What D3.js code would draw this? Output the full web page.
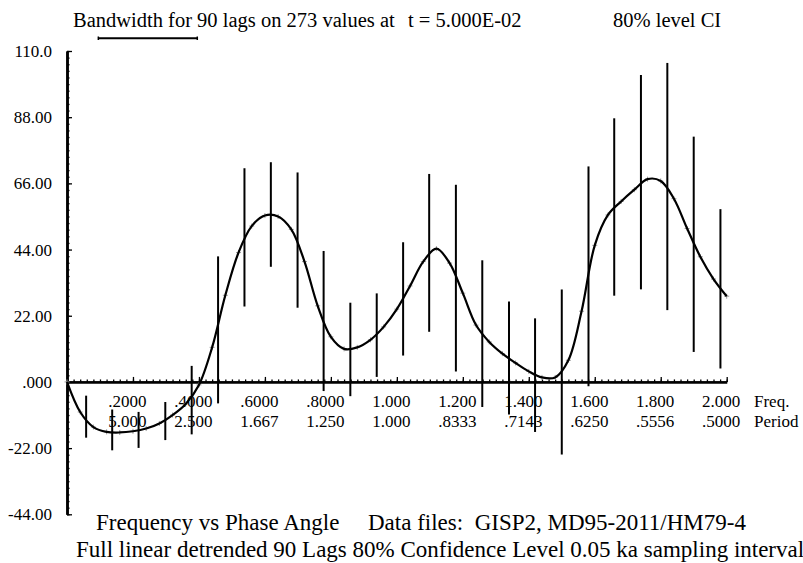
<!DOCTYPE html>
<html>
<head>
<meta charset="utf-8">
<script src="https://cdn.jsdelivr.net/npm/d3@7"></script>
<style>
body { margin: 0; background: #fff; }
svg { display: block; }
</style>
</head>
<body>
<script>
// spectrum (phase angle), every 0.04 in frequency
specFreq = [0.00, 0.04, 0.08, 0.12, 0.16, 0.20, 0.24, 0.28, 0.32, 0.36,
            0.40, 0.44, 0.48, 0.52, 0.56, 0.60, 0.64, 0.68, 0.72, 0.76,
            0.80, 0.84, 0.88, 0.92, 0.96, 1.00, 1.04, 1.08, 1.12, 1.16,
            1.20, 1.24, 1.28, 1.32, 1.36, 1.40, 1.44, 1.48, 1.52, 1.56,
            1.60, 1.64, 1.68, 1.72, 1.76, 1.80, 1.84, 1.88, 1.92, 1.96, 2.00]
specValue = [0.0, -10.0, -15.0, -16.6, -16.8, -16.4, -15.5, -13.8, -11.0, -7.3,
             -1.0, 11.5, 28.8, 43.0, 51.8, 55.3, 55.0, 50.7, 40.0, 25.3,
             15.0, 11.0, 11.5, 14.0, 18.3, 24.2, 31.9, 40.0, 44.3, 39.5,
             29.5, 18.9, 13.3, 9.4, 6.3, 3.5, 1.5, 1.5, 7.2, 23.5,
             45.4, 55.5, 60.0, 63.9, 67.4, 66.8, 60.9, 51.0, 41.6, 34.2, 28.5]

// 80% confidence intervals
ciFreq = [0.058, 0.137, 0.217, 0.298, 0.378, 0.458, 0.538, 0.618, 0.699, 0.778,
          0.859, 0.939, 1.019, 1.098, 1.179, 1.259, 1.340, 1.419, 1.500, 1.581,
          1.659, 1.740, 1.820, 1.900, 1.981]
ciHigh = [-4.9, -9.5, -10.3, -7.0, 5.0, 41.4, 70.7, 72.7, 69.3, 43.2,
          26.0, 29.1, 46.1, 68.8, 65.2, 40.1, 26.4, 20.8, 30.4, 71.3,
          87.3, 101.7, 105.7, 81.2, 57.1]
ciLow = [-18.2, -22.4, -21.6, -19.0, -17.1, -6.8, 25.4, 38.6, 25.0, -2.7,
         -4.4, 2.0, 9.1, 17.0, 3.8, -8.0, -10.5, -16.3, -23.8, -1.1,
         29.0, 31.1, 24.2, 10.3, 4.8]

bandwidthStart = 0.095
bandwidth = 0.30

yTickValues = [-44, -22, 0, 22, 44, 66, 88, 110]
yTickLabels = ["-44.00", "-22.00", ".000", "22.00", "44.00", "66.00", "88.00", "110.0"]
freqTicks = [0.2, 0.4, 0.6, 0.8, 1.0, 1.2, 1.4, 1.6, 1.8, 2.0]
freqLabels = [".2000", ".4000", ".6000", ".8000", "1.000", "1.200", "1.400", "1.600", "1.800", "2.000"]
periodLabels = ["5.000", "2.500", "1.667", "1.250", "1.000", ".8333", ".7143", ".6250", ".5556", ".5000"]

serif = "'Liberation Serif', 'Times New Roman', Times, serif"

svg = d3.select("body").append("svg")
        .attr("width", 803)
        .attr("height", 563)
        .attr("font-family", serif)

x = d3.scaleLinear().domain([0, 2]).range([67, 726.7])
y = d3.scaleLinear().domain([-44, 110]).range([514.3, 51])

function styleAxis(g, width) {
        g.attr("font-family", serif).attr("font-size", 17)
        g.selectAll(".domain").attr("stroke-width", width)
        g.selectAll(".tick line").attr("stroke-width", 1.3)
        g.selectAll("text").attr("fill", "black")
}

// y axis, minor then major ticks
svg.append("g")
        .attr("transform", "translate(" + x(0) + ",0)")
        .call(d3.axisLeft(y).tickValues(d3.range(-44, 110.01, 2.2)).tickSize(-2.5).tickSizeOuter(0).tickFormat(""))
        .call(styleAxis, 2.5)

svg.append("g")
        .attr("transform", "translate(" + x(0) + ",0)")
        .call(d3.axisLeft(y).tickValues(yTickValues).tickSize(-5).tickSizeOuter(0).tickPadding(15)
                .tickFormat(function(d, i) { return yTickLabels[i] }))
        .call(styleAxis, 2.5)

// x axis through zero
svg.append("g")
        .attr("transform", "translate(0," + y(0) + ")")
        .call(d3.axisBottom(x).tickValues(d3.range(0, 2.001, 0.02)).tickSize(-2.5).tickSizeOuter(0).tickFormat(""))
        .call(styleAxis, 2.2)

svg.append("g")
        .attr("transform", "translate(0," + y(0) + ")")
        .call(d3.axisBottom(x).tickValues(freqTicks).tickSize(-5).tickSizeOuter(0).tickPadding(13)
                .tickFormat(function(d, i) { return freqLabels[i] }))
        .call(styleAxis, 2.2)
        .selectAll("text").attr("dx", -6)

periodAxis = svg.append("g")
        .attr("transform", "translate(0," + y(0) + ")")
        .call(d3.axisBottom(x).tickValues(freqTicks).tickSize(0).tickPadding(33)
                .tickFormat(function(d, i) { return periodLabels[i] }))
        .call(styleAxis, 0)
periodAxis.select(".domain").remove()
periodAxis.selectAll("text").attr("dx", -6)

svg.append("text").attr("x", 754).attr("y", y(0) + 25).attr("font-size", 17).text("Freq.")
svg.append("text").attr("x", 754).attr("y", y(0) + 45).attr("font-size", 17).text("Period")

// confidence interval bars
ci = ciFreq.map(function(f, i) { return {f: f, lo: ciLow[i], hi: ciHigh[i]} })

svg.append("g").selectAll("line").data(ci)
        .enter().append("line")
        .attr("x1", function(d) { return x(d.f) })
        .attr("x2", function(d) { return x(d.f) })
        .attr("y1", function(d) { return y(d.lo) })
        .attr("y2", function(d) { return y(d.hi) })
        .attr("stroke", "black")
        .attr("stroke-width", 2)
        .attr("stroke-linecap", "square")

// spectrum curve with point markers
spec = specFreq.map(function(f, i) { return {f: f, v: specValue[i]} })

svg.append("g").selectAll("path").data(spec)
        .enter().append("path")
        .attr("transform", function(d) { return "translate(" + x(d.f) + "," + y(d.v) + ")" })
        .attr("d", "M-2.5,0H2.5M0,-2.5V2.5")
        .attr("stroke", "#999")
        .attr("stroke-width", 1)

line = d3.line()
        .x(function(d) { return x(d.f) })
        .y(function(d) { return y(d.v) })
        .curve(d3.curveCatmullRom.alpha(0.5))

svg.append("path").datum(spec)
        .attr("d", line)
        .attr("fill", "none")
        .attr("stroke", "black")
        .attr("stroke-width", 2.2)

// header
svg.append("text").attr("x", 73).attr("y", 26.5).attr("font-size", 20.5)
        .text("Bandwidth for 90 lags on 273 values at")
svg.append("text").attr("x", 408).attr("y", 26.5).attr("font-size", 20.5)
        .text("t = 5.000E-02")
svg.append("text").attr("x", 613).attr("y", 26.5).attr("font-size", 20.5)
        .text("80% level CI")

bw = svg.append("g").attr("stroke", "black")
bw.append("line")
        .attr("x1", x(bandwidthStart)).attr("x2", x(bandwidthStart + bandwidth))
        .attr("y1", 38.3).attr("y2", 38.3).attr("stroke-width", 2)
bw.selectAll(".cap").data([bandwidthStart, bandwidthStart + bandwidth])
        .enter().append("line")
        .attr("x1", function(d) { return x(d) }).attr("x2", function(d) { return x(d) })
        .attr("y1", 36.5).attr("y2", 40).attr("stroke-width", 1.5)

// footer
svg.append("text").attr("x", 96).attr("y", 530).attr("font-size", 23)
        .text("Frequency vs Phase Angle")
svg.append("text").attr("x", 368).attr("y", 530).attr("font-size", 23)
        .attr("xml:space", "preserve")
        .text("Data files:  GISP2, MD95-2011/HM79-4")
svg.append("text").attr("x", 76).attr("y", 557).attr("font-size", 23)
        .text("Full linear detrended 90 Lags 80% Confidence Level 0.05 ka sampling interval")
</script>
</body>
</html>
